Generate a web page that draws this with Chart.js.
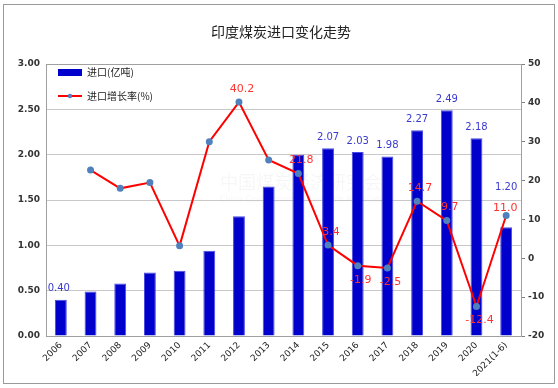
<!DOCTYPE html>
<html><head><meta charset="utf-8">
<script src="https://cdn.jsdelivr.net/npm/chart.js@4.4.1/dist/chart.umd.min.js"></script>
<style>html,body{margin:0;padding:0;background:#fff}#wrap{width:558px;height:388px;position:relative}</style>
</head><body><div id="wrap"><canvas id="c" width="558" height="388"></canvas></div>
<script>
const categories = ['2006','2007','2008','2009','2010','2011','2012','2013','2014','2015','2016','2017','2018','2019','2020','2021(1-6)'];
const importVolume = [0.40,0.49,0.58,0.70,0.72,0.94,1.32,1.65,2.00,2.07,2.03,1.98,2.27,2.49,2.18,1.20];
const importGrowth = [null,22.7,18.0,19.5,3.2,30.0,40.2,25.3,21.8,3.4,-1.9,-2.5,14.7,9.7,-12.4,11.0];
const showVolumeLabel = [true,false,false,false,false,false,false,false,false,true,true,true,true,true,true,true];
const showGrowthLabel = [false,false,false,false,false,false,true,false,true,true,true,true,true,true,true,true];
const leftTicks = [0,0.5,1,1.5,2,2.5,3];
const rightTicks = [-20,-10,0,10,20,30,40,50];
const titleText = '印度煤炭进口变化走势';
const volumeName = '进口(亿吨)';
const growthName = '进口增长率(%)';

const FONT = '"DejaVu Sans", "Noto Sans CJK SC", sans-serif';
const CJK = '"Noto Sans CJK SC", sans-serif';

const decor = {
  id: 'decor',
  beforeDraw(chart) {
    const ctx = chart.ctx;
    ctx.save();
    ctx.fillStyle = '#fff';
    ctx.fillRect(0,0,chart.width,chart.height);
    ctx.strokeStyle = '#9a9a9a';
    ctx.lineWidth = 1;
    ctx.strokeRect(3.5,4.5,551,379);
    ctx.fillStyle = '#222';
    ctx.font = '14px ' + CJK;
    ctx.textAlign = 'center';
    ctx.textBaseline = 'middle';
    ctx.fillText(titleText, 281, 32);
    // watermark
    ctx.fillStyle = 'rgba(0,0,0,0.035)';
    ctx.font = '18px ' + CJK;
    ctx.textAlign = 'left';
    ctx.fillText('中国煤炭经济研究会', 220, 182);
    ctx.font = '8px ' + FONT;
    ctx.fillText('China Coal Economic Research Association', 220, 200);
    ctx.restore();
  },
  afterDraw(chart) {
    const ctx = chart.ctx;
    const ca = chart.chartArea;
    ctx.save();
    ctx.strokeStyle = '#a0a0a0';
    ctx.lineWidth = 1;
    ctx.beginPath();
    ctx.moveTo(ca.left, ca.top + 0.5); ctx.lineTo(ca.right, ca.top + 0.5);
    ctx.stroke();
    const barMeta = chart.getDatasetMeta(0);
    const lineMeta = chart.getDatasetMeta(1);
    const last = categories.length - 1;
    ctx.textAlign = 'center';
    ctx.textBaseline = 'middle';
    ctx.font = '10px ' + FONT;
    ctx.fillStyle = '#3a3ad0';
    barMeta.data.forEach((el, i) => {
      if (!showVolumeLabel[i]) return;
      let dy = -11, dx = 0;
      if (i === 0) dx = -2;
      if (i === last) dy = -40;
      ctx.fillText(importVolume[i].toFixed(2), el.x + dx, el.y + dy);
    });
    ctx.font = '11px ' + FONT;
    ctx.fillStyle = '#ff3333';
    lineMeta.data.forEach((el, i) => {
      if (!showGrowthLabel[i] || importGrowth[i] === null) return;
      const v = importGrowth[i];
      let dy = v < 0 ? 14 : -13, dx = 3;
      if (i === last) { dy = -7; dx = -1; }
      ctx.fillText(v.toFixed(1), el.x + dx, el.y + dy);
    });
    const lx = ca.left + 12, ly1 = ca.top + 8, ly2 = ca.top + 32;
    ctx.fillStyle = '#0000cc';
    ctx.fillRect(lx, ly1 - 3, 24, 7);
    ctx.strokeStyle = '#ff0000';
    ctx.lineWidth = 2;
    ctx.beginPath(); ctx.moveTo(lx, ly2); ctx.lineTo(lx + 24, ly2); ctx.stroke();
    ctx.fillStyle = '#4f81bd';
    ctx.beginPath(); ctx.arc(lx + 12, ly2, 2.2, 0, Math.PI * 2); ctx.fill();
    ctx.fillStyle = '#222';
    ctx.textAlign = 'left';
    ctx.font = '10px ' + CJK;
    ctx.fillText(volumeName, lx + 29, ly1);
    ctx.fillText(growthName, lx + 29, ly2);
    ctx.restore();
  }
};

new Chart(document.getElementById('c'), {
  data: {
    labels: categories,
    datasets: [
      {
        type: 'bar', label: volumeName, data: importVolume, yAxisID: 'y',
        backgroundColor: '#0000cc', borderColor: '#4a4ae0', borderWidth: 1,
        barPercentage: 0.8, categoryPercentage: 0.5, order: 2
      },
      {
        type: 'line', label: growthName, data: importGrowth, yAxisID: 'y1',
        borderColor: '#ff0000', borderWidth: 2, backgroundColor: '#4f81bd',
        pointBackgroundColor: '#4f81bd', pointBorderColor: '#4f81bd',
        pointRadius: 2.5, tension: 0, spanGaps: false, order: 1
      }
    ]
  },
  options: {
    responsive: false, animation: false,
    layout: { padding: { top: 64, left: 3, right: 7, bottom: 12 } },
    plugins: { legend: { display: false }, title: { display: false }, tooltip: { enabled: false } },
    scales: {
      x: {
        grid: { display: false, drawTicks: false },
        border: { display: true, color: '#a0a0a0' },
        ticks: { maxRotation: 45, minRotation: 45, autoSkip: false, font: { family: FONT, size: 9 }, color: '#222', padding: 4 },
        afterFit(s) { s.height = 40; }
      },
      y: {
        position: 'left', min: 0, max: 3,
        afterBuildTicks(s) { s.ticks = leftTicks.map(v => ({ value: v })); },
        grid: { color: '#c8c8c8', drawTicks: false },
        border: { display: true, color: '#a0a0a0' },
        ticks: { callback: v => Number(v).toFixed(2), font: { family: FONT, size: 9, weight: 'bold' }, color: '#333', padding: 6 },
        afterFit(s) { s.width = 43; }
      },
      y1: {
        position: 'right', min: -20, max: 50,
        afterBuildTicks(s) { s.ticks = rightTicks.map(v => ({ value: v })); },
        grid: { drawOnChartArea: false, drawTicks: true, tickLength: 4, color: '#808080' },
        border: { display: true, color: '#a0a0a0' },
        ticks: { font: { family: FONT, size: 9, weight: 'bold' }, color: '#333', padding: 3 },
        afterFit(s) { s.width = 30; }
      }
    }
  },
  plugins: [decor]
});
</script>
</body></html>
